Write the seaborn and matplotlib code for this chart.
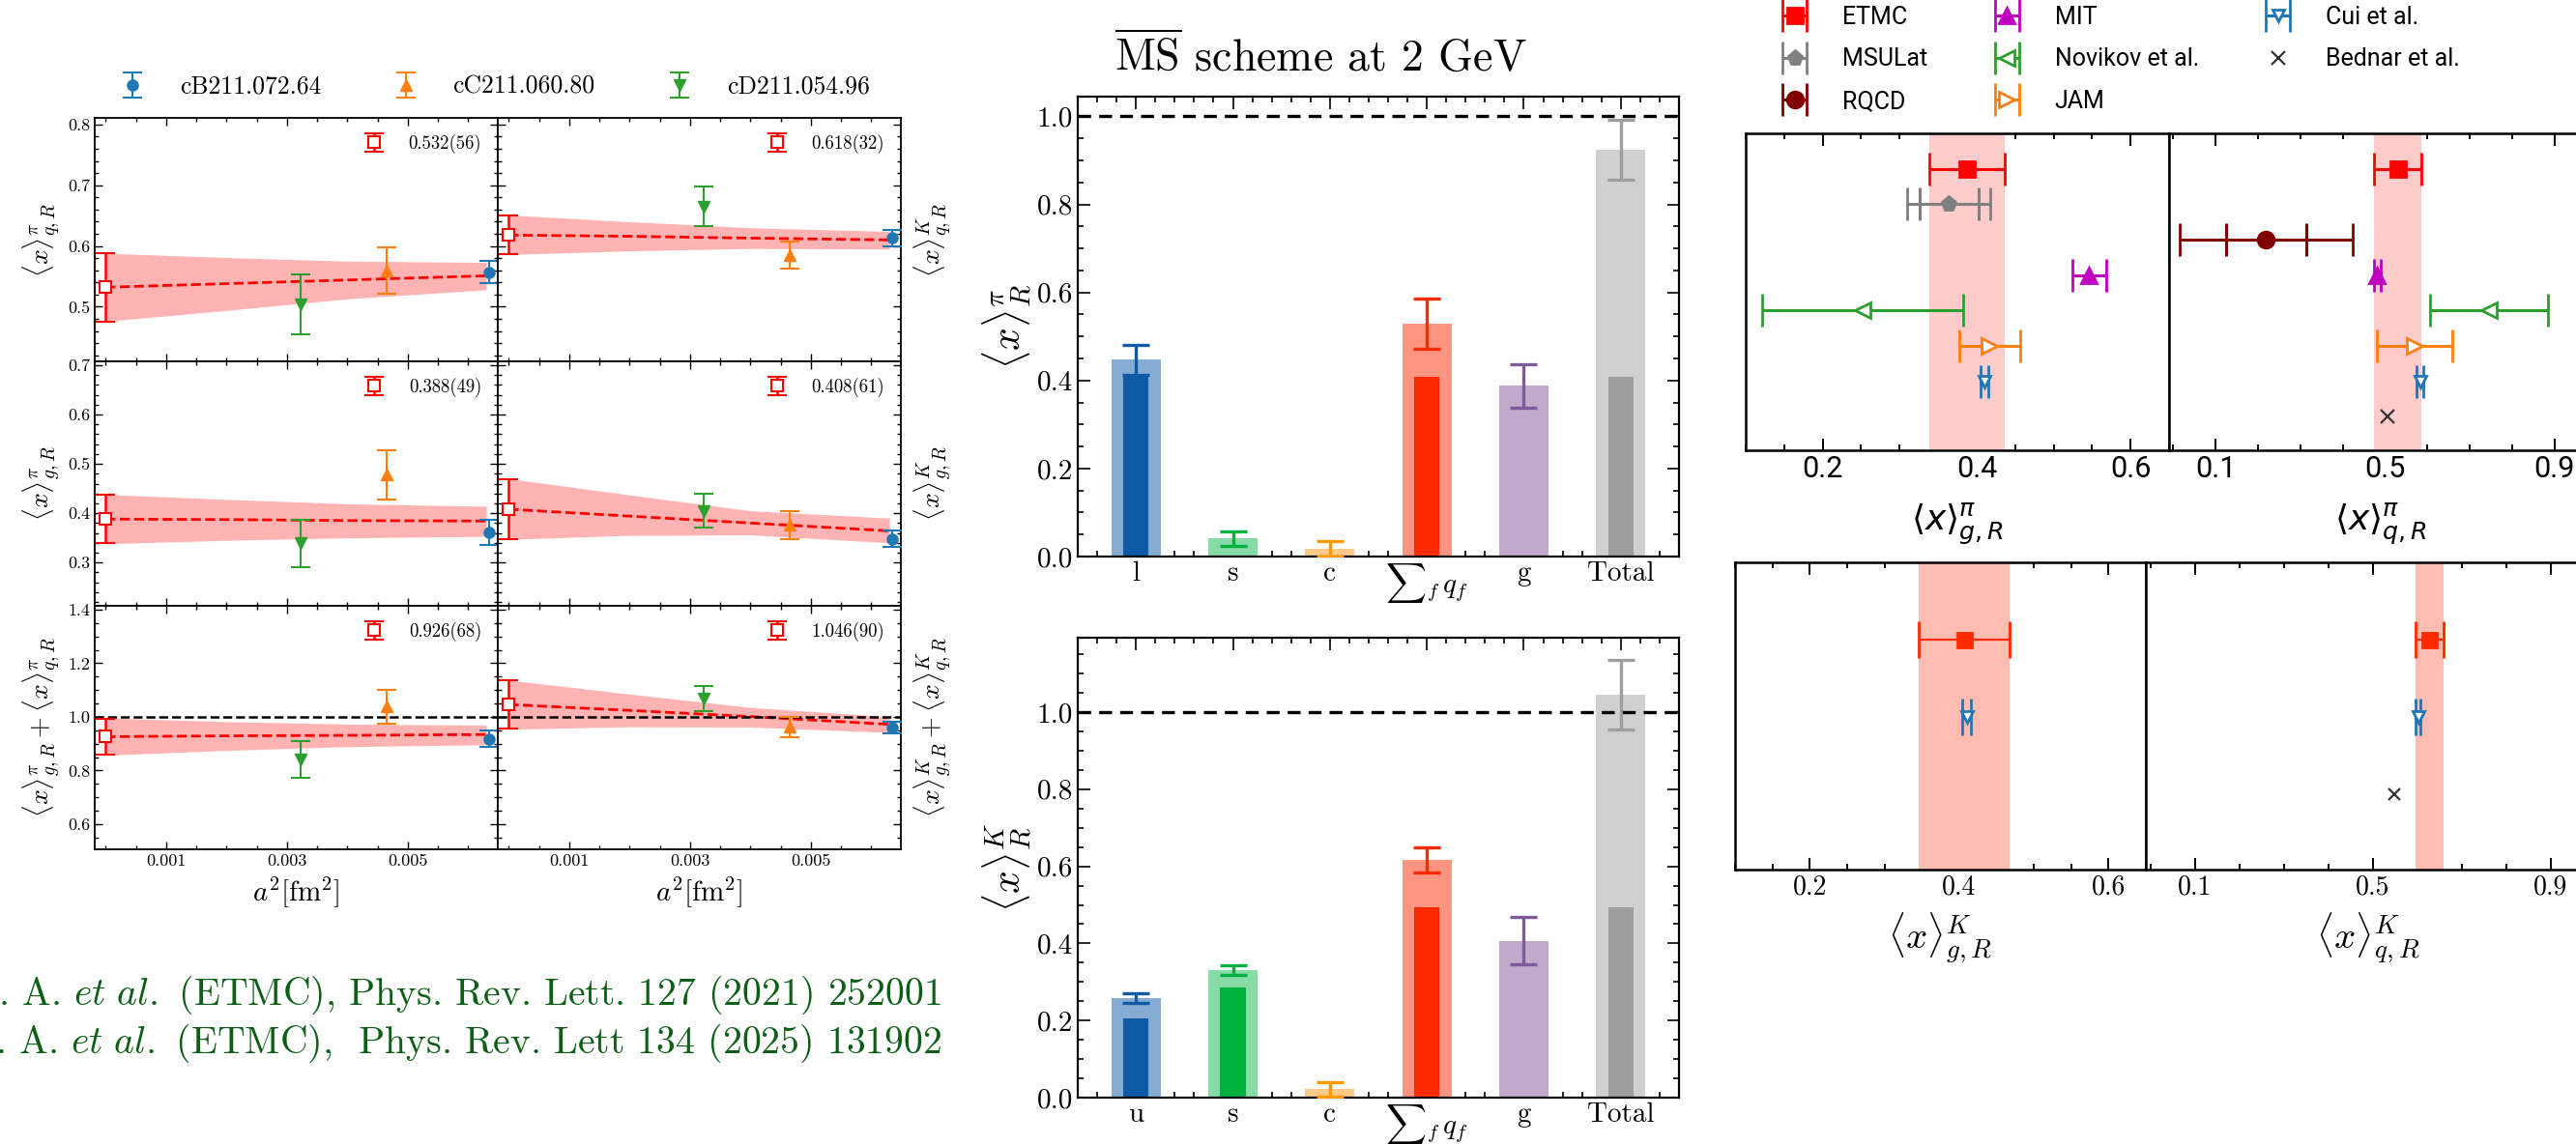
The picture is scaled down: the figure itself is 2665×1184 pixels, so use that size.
import matplotlib
matplotlib.use("Agg")
import numpy as np
import pandas as pd
import matplotlib.pyplot as plt
import seaborn as sns
from matplotlib.ticker import MultipleLocator, FormatStrFormatter

# ======================= DATA =======================
# ---- left block: continuum extrapolation (ETMC ensembles) ----
ens_names = ["cB211.072.64", "cC211.060.80", "cD211.054.96"]
ens_a2 = [0.00634, 0.00465, 0.00323]
ens_colors = ["#1f77b4", "#ff7f0e", "#2ca02c"]
ens_markers = ["o", "^", "v"]

pi_q_val = [0.557, 0.560, 0.504]
pi_q_err = [0.018, 0.038, 0.050]
K_q_val = [0.613, 0.585, 0.665]
K_q_err = [0.013, 0.022, 0.033]
pi_g_val = [0.361, 0.478, 0.339]
pi_g_err = [0.026, 0.050, 0.048]
K_g_val = [0.348, 0.376, 0.405]
K_g_err = [0.016, 0.029, 0.035]
pi_sum_val = [0.918, 1.038, 0.842]
pi_sum_err = [0.031, 0.063, 0.068]
K_sum_val = [0.960, 0.962, 1.068]
K_sum_err = [0.020, 0.037, 0.046]

cont_labels = ["0.532(56)", "0.618(32)", "0.388(49)", "0.408(61)", "0.926(68)", "1.046(90)"]
cont_val = [0.532, 0.618, 0.388, 0.408, 0.926, 1.046]
cont_err = [0.056, 0.032, 0.049, 0.061, 0.068, 0.090]

band_a2 = [0.0, 0.002, 0.004, 0.0063]
pi_q_fit = [0.532, 0.538, 0.544, 0.551]
pi_q_lo = [0.476, 0.494, 0.513, 0.528]
pi_q_hi = [0.588, 0.581, 0.575, 0.573]
K_q_fit = [0.618, 0.616, 0.613, 0.610]
K_q_lo = [0.586, 0.592, 0.596, 0.595]
K_q_hi = [0.651, 0.640, 0.630, 0.624]
pi_g_fit = [0.388, 0.387, 0.385, 0.384]
pi_g_lo = [0.338, 0.345, 0.350, 0.353]
pi_g_hi = [0.438, 0.428, 0.419, 0.414]
K_g_fit = [0.408, 0.394, 0.380, 0.364]
K_g_lo = [0.347, 0.355, 0.356, 0.340]
K_g_hi = [0.470, 0.437, 0.405, 0.390]
pi_sum_fit = [0.926, 0.929, 0.931, 0.934]
pi_sum_lo = [0.857, 0.875, 0.889, 0.896]
pi_sum_hi = [0.996, 0.982, 0.973, 0.969]
K_sum_fit = [1.046, 1.024, 1.001, 0.972]
K_sum_lo = [0.954, 0.963, 0.962, 0.942]
K_sum_hi = [1.137, 1.085, 1.035, 1.001]

# ---- middle block: momentum decomposition bars ----
pi_cats = ["l", "s", "c", r"${\sum}_f\, q_f$", "g", "Total"]
K_cats = ["u", "s", "c", r"${\sum}_f\, q_f$", "g", "Total"]
pi_bar = [0.447, 0.041, 0.018, 0.530, 0.388, 0.925]
pi_bar_err = [0.034, 0.016, 0.017, 0.057, 0.049, 0.068]
pi_bar_dark = [0.410, 0.0, 0.0, 0.409, 0.0, 0.409]
K_bar = [0.258, 0.331, 0.022, 0.617, 0.407, 1.045]
K_bar_err = [0.012, 0.013, 0.019, 0.033, 0.062, 0.091]
K_bar_dark = [0.206, 0.286, 0.0, 0.494, 0.0, 0.494]
bar_light_cols = ["#87acd3", "#86dba6", "#fdca8a", "#ff9580", "#c0a9cb", "#d0d0d0"]
bar_dark_cols = ["#0e5aa7", "#00b140", "#ff9900", "#ff2a00", "#7d5a9a", "#9e9e9e"]

# ---- right block: comparison with other determinations ----
groups = ["ETMC", "MSULat", "RQCD", "MIT", "Novikov et al.", "JAM", "Cui et al.", "Bednar et al."]
grp_colors = ["#ff0000", "#808080", "#800000", "#c000c0", "#2ca02c", "#ff7f0e", "#1f77b4", "#333333"]
grp_markers = ["s", "p", "o", "^", "<", ">", "v", "x"]
grp_open = [False, False, False, False, True, True, True, False]

pi_g_cmp = [0.388, 0.364, np.nan, 0.546, 0.252, 0.417, 0.410, np.nan]
pi_g_cmp_err = [0.049, 0.054, np.nan, 0.022, 0.131, 0.040, 0.005, np.nan]
pi_g_cmp_stat = [np.nan, 0.038, np.nan, np.nan, np.nan, np.nan, np.nan, np.nan]
pi_q_cmp = [0.530, np.nan, 0.219, 0.482, 0.745, 0.570, 0.583, 0.506]
pi_q_cmp_err = [0.055, np.nan, 0.204, 0.008, 0.139, 0.090, 0.008, np.nan]
pi_q_cmp_stat = [np.nan, np.nan, 0.095, np.nan, np.nan, np.nan, np.nan, np.nan]

K_groups = ["ETMC", "Cui et al.", "Bednar et al."]
K_g_cmp = [0.407, 0.410, np.nan]
K_g_cmp_err = [0.061, 0.006, np.nan]
K_q_cmp = [0.628, 0.602, 0.548]
K_q_cmp_err = [0.032, 0.006, np.nan]

# ======================= STYLE =======================
sns.set_theme(style="ticks")
plt.rcParams.update({
    "font.family": ["cmr10", "DejaVu Sans"],
    "mathtext.fontset": "cm",
    "axes.formatter.use_mathtext": True,
    "axes.unicode_minus": False,
    "axes.edgecolor": "black",
    "axes.linewidth": 1.3,
    "xtick.color": "black", "ytick.color": "black",
    "text.color": "black", "axes.labelcolor": "black",
})

W, H = 2665, 1184
fig = plt.figure(figsize=(W / 100, H / 100), dpi=100)


def add_ax(x0, y0, x1, y1):
    return fig.add_axes([x0 / W, 1 - y1 / H, (x1 - x0) / W, (y1 - y0) / H])


# ======================= LEFT BLOCK =======================
L_cols = [(98, 515), (515, 932)]
L_rows = [(122, 374), (374, 627), (627, 879)]
row_ylim = [(0.41, 0.811), (0.212, 0.708), (0.506, 1.414)]
row_major = [0.1, 0.1, 0.2]
row_minor = [0.02, 0.02, 0.05]
left_panels = [
    (0, 0, pi_q_val, pi_q_err, pi_q_fit, pi_q_lo, pi_q_hi, r"$\langle x\rangle^{\pi}_{q,R}$"),
    (0, 1, K_q_val, K_q_err, K_q_fit, K_q_lo, K_q_hi, r"$\langle x\rangle^{K}_{q,R}$"),
    (1, 0, pi_g_val, pi_g_err, pi_g_fit, pi_g_lo, pi_g_hi, r"$\langle x\rangle^{\pi}_{g,R}$"),
    (1, 1, K_g_val, K_g_err, K_g_fit, K_g_lo, K_g_hi, r"$\langle x\rangle^{K}_{g,R}$"),
    (2, 0, pi_sum_val, pi_sum_err, pi_sum_fit, pi_sum_lo, pi_sum_hi,
     r"$\langle x\rangle^{\pi}_{g,R}+\langle x\rangle^{\pi}_{q,R}$"),
    (2, 1, K_sum_val, K_sum_err, K_sum_fit, K_sum_lo, K_sum_hi,
     r"$\langle x\rangle^{K}_{g,R}+\langle x\rangle^{K}_{q,R}$"),
]
ens_handles = None
for k, (r, c, vals, errs, fit, lo, hi, ylab) in enumerate(left_panels):
    ax = add_ax(L_cols[c][0], L_rows[r][0], L_cols[c][1], L_rows[r][1])
    ax.fill_between(band_a2, lo, hi, color="#ffb3b3", lw=0, zorder=1)
    ax.plot(band_a2, fit, color="red", ls="--", lw=2.0, zorder=2)
    if r == 2:
        ax.axhline(1.0, color="black", ls="--", lw=1.8, zorder=3)
    hs = []
    for i in range(3):
        h = ax.errorbar(ens_a2[i], vals[i], yerr=errs[i], fmt=ens_markers[i], color=ens_colors[i],
                        ms=8, capsize=7, elinewidth=1.5, capthick=1.5, zorder=4, label=ens_names[i])
        hs.append(h)
    if ens_handles is None:
        ens_handles = hs
    hc = ax.errorbar(0.0, cont_val[k], yerr=cont_err[k], fmt="s", color="red", mfc="white", mec="red",
                     mew=1.5, ms=9, capsize=7, elinewidth=1.8, capthick=1.8, zorder=5)
    ax.legend([hc], [cont_labels[k]], loc="upper right", frameon=False, fontsize=13.5,
              handlelength=1.0, handletextpad=1.4)
    ax.set_xlim(-0.00018, 0.00649)
    ax.set_ylim(*row_ylim[r])
    ax.yaxis.set_major_locator(MultipleLocator(row_major[r]))
    ax.yaxis.set_minor_locator(MultipleLocator(row_minor[r]))
    ax.yaxis.set_major_formatter(FormatStrFormatter("%.1f"))
    ax.xaxis.set_minor_locator(MultipleLocator(0.0005))
    if r == 2:
        ax.set_xticks([0.001, 0.003, 0.005], ["0.001", "0.003", "0.005"])
        ax.set_xlabel(r"$a^2[\mathrm{fm}^2]$", fontsize=21, labelpad=4)
    else:
        ax.set_xticks([0.001, 0.003, 0.005], ["", "", ""])
    ax.tick_params(which="both", direction="in", top=True, right=True, labelsize=13, width=1.0)
    ax.tick_params(which="major", length=6)
    ax.tick_params(which="minor", length=3)
    if c == 0:
        ax.set_ylabel(ylab, fontsize=20, labelpad=4)
    else:
        ax.tick_params(labelleft=False)
        ax.yaxis.set_label_position("right")
        ax.set_ylabel(ylab, fontsize=20, labelpad=8)

fig.legend(ens_handles, ens_names, loc="center", bbox_to_anchor=(512 / W, 1 - 90 / H), ncol=3,
           frameon=False, fontsize=18.5, handlelength=1.0, handletextpad=1.4, columnspacing=2.9)

fig.text(974 / W, 1 - 1030 / H, r". A. $\mathit{et\ al.}$ (ETMC), Phys. Rev. Lett. 127 (2021) 252001",
         ha="right", va="center", color="#0d5e17", fontsize=28.6)
fig.text(974 / W, 1 - 1080 / H, r". A. $\mathit{et\ al.}$ (ETMC),  Phys. Rev. Lett 134 (2025) 131902",
         ha="right", va="center", color="#0d5e17", fontsize=28.6)

# ======================= MIDDLE BLOCK =======================
fig.text(1366 / W, 1 - 57 / H, r"$\overline{\mathrm{MS}}$ scheme at 2 GeV", ha="center", va="center",
         fontsize=33)


def bar_panel(ax, cats, vals, errs, dark, ylim, ylab):
    df = pd.DataFrame({"cat": cats, "val": vals, "dark": dark})
    light_pal = dict(zip(cats, bar_light_cols))
    dark_pal = dict(zip(cats, bar_dark_cols))
    sns.barplot(data=df, x="cat", y="val", hue="cat", order=cats, hue_order=cats, palette=light_pal,
                width=0.51, saturation=1, dodge=False, legend=False, errorbar=None, linewidth=0, ax=ax)
    sns.barplot(data=df, x="cat", y="dark", hue="cat", order=cats, hue_order=cats, palette=dark_pal,
                width=0.26, saturation=1, dodge=False, legend=False, errorbar=None, linewidth=0, ax=ax)
    for i in range(len(cats)):
        ax.errorbar(i, vals[i], yerr=errs[i], fmt="none", ecolor=bar_dark_cols[i], elinewidth=2.4,
                    capsize=10, capthick=2.4, zorder=5)
    ax.axhline(1.0, color="black", ls="--", lw=2.4, dashes=(4, 2.5), zorder=6)
    ax.set_xlim(-0.6, 5.6)
    ax.set_ylim(*ylim)
    ax.yaxis.set_major_locator(MultipleLocator(0.2))
    ax.yaxis.set_minor_locator(MultipleLocator(0.05))
    ax.yaxis.set_major_formatter(FormatStrFormatter("%.1f"))
    ax.xaxis.set_minor_locator(MultipleLocator(0.2))
    ax.set_xlabel("")
    ax.set_ylabel(ylab, fontsize=30, labelpad=2)
    ax.tick_params(which="both", direction="in", top=True, right=True, labelsize=21, width=1.2)
    ax.tick_params(which="major", length=9)
    ax.tick_params(which="minor", length=4.5)
    for s in ax.spines.values():
        s.set_linewidth(1.6)


axm1 = add_ax(1115, 100, 1737, 576)
bar_panel(axm1, pi_cats, pi_bar, pi_bar_err, pi_bar_dark, (0.0, 1.045), r"$\langle x\rangle^{\pi}_{R}$")
axm2 = add_ax(1115, 660, 1737, 1136)
bar_panel(axm2, K_cats, K_bar, K_bar_err, K_bar_dark, (0.0, 1.193), r"$\langle x\rangle^{K}_{R}$")

# ======================= RIGHT BLOCK =======================
def cmp_points(ax, names, vals, errs, stats, ms_scale=1.0, etmc_col=None, elw=2.2, cap=12):
    handles = {}
    for j, name in enumerate(names):
        gi = groups.index(name)
        v = vals[j]
        if np.isnan(v):
            continue
        col = grp_colors[gi]
        if name == "ETMC" and etmc_col is not None:
            col = etmc_col
        mfc = "white" if grp_open[gi] else col
        e = errs[j]
        ms = {"s": 12, "p": 11, "o": 12, "^": 12, "<": 12, ">": 12, "v": 9, "x": 10}[grp_markers[gi]] * ms_scale
        if np.isnan(e):
            h = ax.errorbar(v, j, fmt=grp_markers[gi], color=col, ms=ms, mew=1.6, zorder=5)
        else:
            h = ax.errorbar(v, j, xerr=e, fmt=grp_markers[gi], color=col, mfc=mfc, mec=col, mew=2.0,
                            ms=ms, elinewidth=elw, capsize=cap, capthick=elw, zorder=5)
        if stats is not None and not np.isnan(stats[j]):
            ax.errorbar(v, j, xerr=stats[j], fmt="none", ecolor=col, elinewidth=elw, capsize=cap,
                        capthick=elw, zorder=4)
        handles[name] = h
    return handles


def style_right(ax, xlim, major, minor, ticks, labels, family, tsize):
    ax.set_xlim(*xlim)
    ax.set_yticks([])
    ax.xaxis.set_minor_locator(MultipleLocator(minor))
    ax.set_xticks(ticks, labels, fontfamily=family, fontsize=tsize)
    ax.tick_params(axis="x", which="both", direction="in", top=True, bottom=True, width=1.4)
    ax.tick_params(axis="x", which="major", length=9)
    ax.tick_params(axis="x", which="minor", length=4.5)
    for s in ax.spines.values():
        s.set_linewidth(1.8)


axA = add_ax(1806, 138, 2244, 466)
axA.axvspan(pi_g_cmp[0] - pi_g_cmp_err[0], pi_g_cmp[0] + pi_g_cmp_err[0], color="#ffcccc", lw=0, zorder=1)
hA = cmp_points(axA, groups, pi_g_cmp, pi_g_cmp_err, pi_g_cmp_stat)
axA.set_ylim(7.95, -1.0)
style_right(axA, (0.1, 0.65), 0.2, 0.05, [0.2, 0.4, 0.6], ["0.2", "0.4", "0.6"], "Roboto", 22)
axA.set_xlabel(r"$\langle x\rangle^{\pi}_{g,R}$", fontsize=26, math_fontfamily="dejavusans", labelpad=14)

axB = add_ax(2244, 138, 2682, 466)
axB.axvspan(pi_q_cmp[0] - pi_q_cmp_err[0], pi_q_cmp[0] + pi_q_cmp_err[0], color="#ffcccc", lw=0, zorder=1)
hB = cmp_points(axB, groups, pi_q_cmp, pi_q_cmp_err, pi_q_cmp_stat)
axB.set_ylim(7.95, -1.0)
style_right(axB, (-0.01, 0.99), 0.4, 0.1, [0.1, 0.5, 0.9], ["0.1", "0.5", "0.9"], "Roboto", 22)
axB.set_xlabel(r"$\langle x\rangle^{\pi}_{q,R}$", fontsize=26, math_fontfamily="dejavusans", labelpad=14)

axC = add_ax(1795, 582, 2220, 900)
axC.axvspan(K_g_cmp[0] - K_g_cmp_err[0], K_g_cmp[0] + K_g_cmp_err[0], color="#ffbdb1", lw=0, zorder=1)
cmp_points(axC, K_groups, K_g_cmp, K_g_cmp_err, None, ms_scale=0.9, etmc_col="#ff2a00", elw=1.6, cap=14)
axC.set_ylim(2.97, -1.0)
style_right(axC, (0.1, 0.65), 0.2, 0.05, [0.2, 0.4, 0.6], ["0.2", "0.4", "0.6"], "cmr10", 20)
axC.set_xlabel(r"$\langle x\rangle^{K}_{g,R}$", fontsize=28, labelpad=8)

axD = add_ax(2220, 582, 2680, 900)
axD.axvspan(K_q_cmp[0] - K_q_cmp_err[0], K_q_cmp[0] + K_q_cmp_err[0], color="#ffbdb1", lw=0, zorder=1)
cmp_points(axD, K_groups, K_q_cmp, K_q_cmp_err, None, ms_scale=0.9, etmc_col="#ff2a00", elw=1.6, cap=14)
axD.set_ylim(2.97, -1.0)
style_right(axD, (-0.01, 0.99), 0.4, 0.1, [0.1, 0.5, 0.9], ["0.1", "0.5", "0.9"], "cmr10", 20)
axD.set_xlabel(r"$\langle x\rangle^{K}_{q,R}$", fontsize=28, labelpad=8)

all_h = {**hA, **hB}
leg_handles = [all_h[g] for g in groups]
fig.legend(leg_handles, groups, loc="upper left", bbox_to_anchor=(1840 / W, 1 - 6 / H), ncol=3,
           frameon=False, prop={"family": "Roboto", "size": 18}, handlelength=1.35, handletextpad=1.3,
           columnspacing=2.6, labelspacing=0.78, borderpad=0, borderaxespad=0)

fig.savefig("out.png", dpi=100)
